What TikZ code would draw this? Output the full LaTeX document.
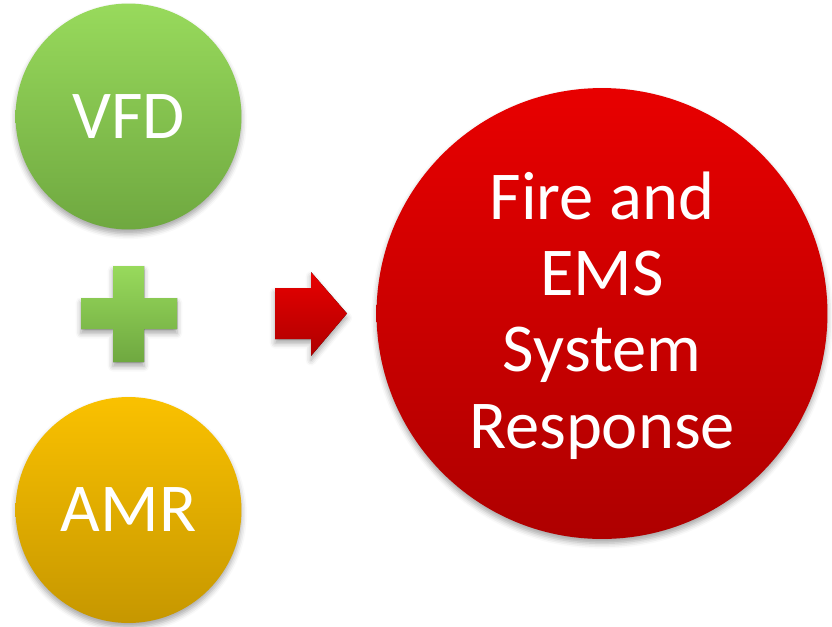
\documentclass[tikz,border=0pt]{standalone}
\usepackage{fontspec}
\setmainfont{Carlito}
\usetikzlibrary{positioning,shadows.blur}
\definecolor{vfdtop}{RGB}{152,218,92}
\definecolor{vfdbot}{RGB}{111,168,64}
\definecolor{amrtop}{RGB}{250,193,0}
\definecolor{amrbot}{RGB}{198,151,0}
\definecolor{emstop}{RGB}{232,0,0}
\definecolor{emsbot}{RGB}{174,0,0}
\tikzset{
  soft/.style={blur shadow={shadow xshift=0pt, shadow yshift=-2.5pt,
    shadow blur radius=3pt, shadow opacity=35}},
  disc/.style={circle, soft, inner sep=0pt, text=white, align=center,
    font=\fontsize{39}{43.4}\selectfont},
  greenfill/.style={top color=vfdtop, bottom color=vfdbot},
  redfill/.style={top color=emstop, bottom color=emsbot},
}

\begin{document}
\begin{tikzpicture}[x=0.02cm, y=-0.02cm]
  \useasboundingbox (0,0) rectangle (832,626);
  \node[disc, greenfill, minimum size=4.52cm] (vfd) at (128.5,116.5) {VFD};
  \node[disc, top color=amrtop, bottom color=amrbot, minimum size=4.52cm] (amr) at (128.5,510) {AMR};
  \node[disc, redfill, minimum size=9.02cm] (ems) at (602,313.5)
    {\rule{0pt}{1.03cm}Fire and\\EMS\\System\\Response};
  % plus and arrow between the discs
  \fill[greenfill, soft] (113,266) -- (144,266) -- (144,298) -- (177,298) -- (177,329)
    -- (144,329) -- (144,362) -- (113,362) -- (113,329) -- (81,329) -- (81,298)
    -- (113,298) -- cycle;
  \fill[redfill, soft] (275,288) -- (311,288) -- (311,272) -- (347,313.5) -- (311,356)
    -- (311,339) -- (275,339) -- cycle;
\end{tikzpicture}
\end{document}
